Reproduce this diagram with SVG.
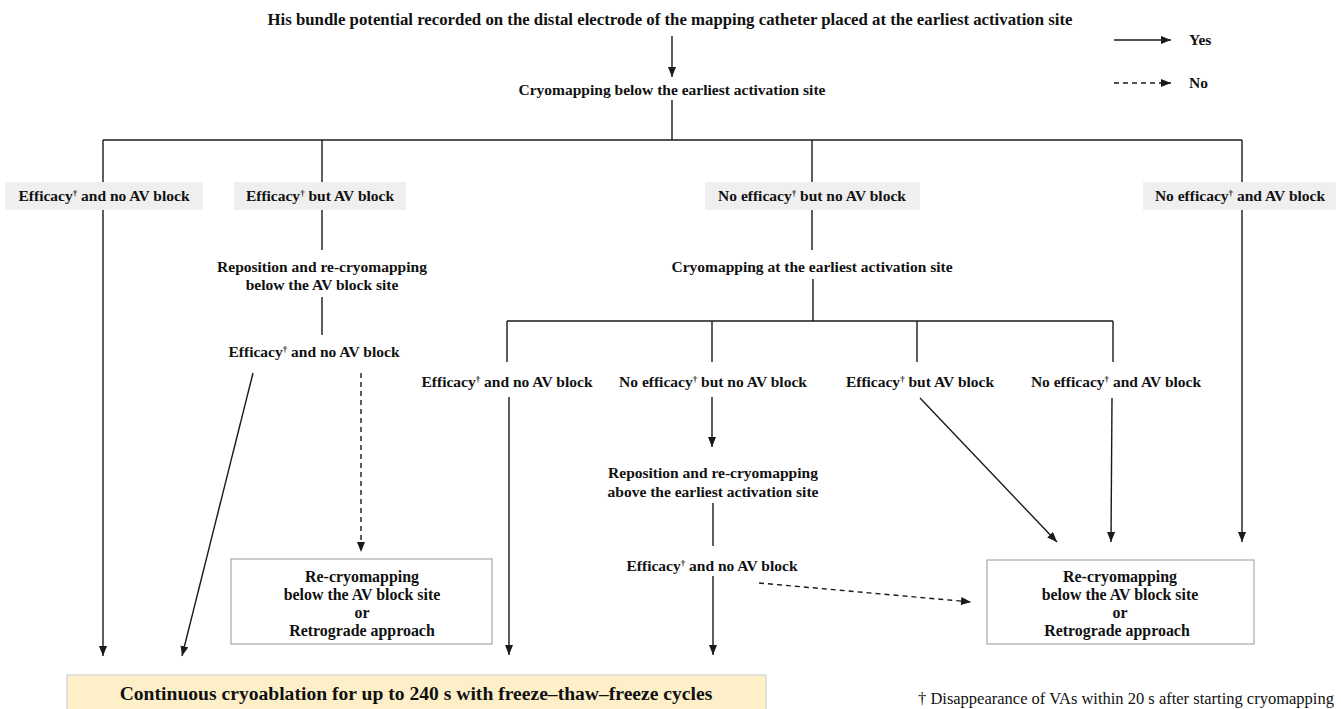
<svg xmlns="http://www.w3.org/2000/svg" width="1341" height="709" viewBox="0 0 1341 709" font-family="'Liberation Serif', Tinos, 'Times New Roman', 'DejaVu Serif', serif">
<style>
text{font-family:'Liberation Serif', Tinos, 'Times New Roman', 'DejaVu Serif', serif;font-weight:700;font-size:15.5px;fill:#111;text-anchor:middle}
.sm{font-size:9px}
.ttl{font-size:16.8px}
.bx{font-size:15.9px}
.ln{stroke:#1a1a1a;stroke-width:1.4;fill:none}
.ar{marker-end:url(#ah)}
.ds{stroke-dasharray:5 4}
.gray{fill:#efefef}
.out{fill:#fff;stroke:#a8a8a8;stroke-width:1.2}
.yel{fill:#fdf0c8;stroke:#cfcfcf;stroke-width:1.2}
.foot{font-weight:400;text-anchor:start;font-size:16.5px}
.big{font-size:19.6px}
</style>
<defs>
<marker id="ah" markerUnits="userSpaceOnUse" markerWidth="10" markerHeight="8" refX="10" refY="4" orient="auto">
<path d="M0,0 L10,4 L0,8 z" fill="#1a1a1a"/>
</marker>
</defs>
<rect width="1341" height="709" fill="#fff"/>

<g id="connectors">
<line class="ln ar" x1="672" y1="36" x2="672" y2="77"/>
<line class="ln" x1="672" y1="100" x2="672" y2="140"/>
<line class="ln" x1="103" y1="140" x2="1242" y2="140"/>
<line class="ln" x1="103" y1="140" x2="103" y2="182"/>
<line class="ln" x1="322" y1="140" x2="322" y2="182"/>
<line class="ln" x1="812" y1="140" x2="812" y2="182"/>
<line class="ln" x1="1242" y1="140" x2="1242" y2="182"/>
<line class="ln ar" x1="103" y1="210" x2="103" y2="656"/>
<line class="ln" x1="322" y1="210" x2="322" y2="250"/>
<line class="ln" x1="322" y1="297" x2="322" y2="335"/>
<line class="ln ar" x1="253" y1="373" x2="182" y2="656"/>
<line class="ln ds ar" x1="361" y1="373" x2="361" y2="552"/>
<line class="ln" x1="812" y1="210" x2="812" y2="250"/>
<line class="ln" x1="813" y1="279" x2="813" y2="321"/>
<line class="ln" x1="507" y1="321" x2="1113" y2="321"/>
<line class="ln" x1="507" y1="321" x2="507" y2="362"/>
<line class="ln" x1="712" y1="321" x2="712" y2="362"/>
<line class="ln" x1="917" y1="321" x2="917" y2="362"/>
<line class="ln" x1="1113" y1="321" x2="1113" y2="362"/>
<line class="ln ar" x1="509" y1="397" x2="509" y2="655"/>
<line class="ln ar" x1="712" y1="397" x2="712" y2="447"/>
<line class="ln" x1="713" y1="503" x2="713" y2="546"/>
<line class="ln ar" x1="713" y1="576" x2="713" y2="655"/>
<line class="ln ds ar" x1="759" y1="583" x2="971" y2="602"/>
<line class="ln ar" x1="920" y1="398" x2="1057" y2="542"/>
<line class="ln ar" x1="1112" y1="398" x2="1111" y2="542"/>
<line class="ln ar" x1="1242" y1="210" x2="1242" y2="542"/>
</g>

<g id="legend">
<line class="ln ar" x1="1114" y1="40" x2="1171" y2="40"/>
<text x="1189" y="45" style="text-anchor:start">Yes</text>
<line class="ln ds ar" x1="1114" y1="83" x2="1171" y2="83"/>
<text x="1189" y="88" style="text-anchor:start">No</text>
</g>

<g id="n-title"><text class="ttl" x="670" y="25">His bundle potential recorded on the distal electrode of the mapping catheter placed at the earliest activation site</text></g>
<g id="n-cryo-below"><text x="672" y="95">Cryomapping below the earliest activation site</text></g>

<g id="n-a1"><rect class="gray" x="5" y="182" width="198" height="28"/>
<text x="104" y="201">Efficacy<tspan class="sm" dy="-5">†</tspan><tspan dy="5"> and no AV block</tspan></text></g>
<g id="n-a2"><rect class="gray" x="234" y="182" width="172" height="28"/>
<text x="320" y="201">Efficacy<tspan class="sm" dy="-5">†</tspan><tspan dy="5"> but AV block</tspan></text></g>
<g id="n-a3"><rect class="gray" x="705" y="182" width="215" height="28"/>
<text x="812" y="201">No efficacy<tspan class="sm" dy="-5">†</tspan><tspan dy="5"> but no AV block</tspan></text></g>
<g id="n-a4"><rect class="gray" x="1143" y="182" width="193" height="28"/>
<text x="1240" y="201">No efficacy<tspan class="sm" dy="-5">†</tspan><tspan dy="5"> and AV block</tspan></text></g>

<g id="n-repos-below"><text x="322" y="272">Reposition and re-cryomapping</text><text x="322" y="290">below the AV block site</text></g>
<g id="n-b-eff"><text x="314" y="357">Efficacy<tspan class="sm" dy="-5">†</tspan><tspan dy="5"> and no AV block</tspan></text></g>

<g id="n-cryo-at"><text x="812" y="272">Cryomapping at the earliest activation site</text></g>

<g id="n-c1"><text x="507" y="387">Efficacy<tspan class="sm" dy="-5">†</tspan><tspan dy="5"> and no AV block</tspan></text></g>
<g id="n-c2"><text x="713" y="387">No efficacy<tspan class="sm" dy="-5">†</tspan><tspan dy="5"> but no AV block</tspan></text></g>
<g id="n-c3"><text x="920" y="387">Efficacy<tspan class="sm" dy="-5">†</tspan><tspan dy="5"> but AV block</tspan></text></g>
<g id="n-c4"><text x="1116" y="387">No efficacy<tspan class="sm" dy="-5">†</tspan><tspan dy="5"> and AV block</tspan></text></g>

<g id="n-repos-above"><text x="713" y="478">Reposition and re-cryomapping</text><text x="713" y="497">above the earliest activation site</text></g>
<g id="n-d-eff"><text x="712" y="571">Efficacy<tspan class="sm" dy="-5">†</tspan><tspan dy="5"> and no AV block</tspan></text></g>

<g id="n-box-left"><rect class="out" x="231" y="559" width="261" height="85"/>
<text class="bx" x="362" y="582">Re-cryomapping</text><text class="bx" x="362" y="600">below the AV block site</text><text class="bx" x="362" y="618">or</text><text class="bx" x="362" y="636">Retrograde approach</text></g>

<g id="n-box-right"><rect class="out" x="987" y="560" width="267" height="84"/>
<text class="bx" x="1120" y="582">Re-cryomapping</text><text class="bx" x="1120" y="600">below the AV block site</text><text class="bx" x="1120" y="618">or</text><text class="bx" x="1117" y="636">Retrograde approach</text></g>

<g id="n-final"><rect class="yel" x="67" y="675" width="699" height="40"/>
<text class="big" x="416" y="700">Continuous cryoablation for up to 240 s with freeze–thaw–freeze cycles</text></g>

<g id="n-foot"><text class="foot" x="918" y="704">† Disappearance of VAs within 20 s after starting cryomapping</text></g>
</svg>
